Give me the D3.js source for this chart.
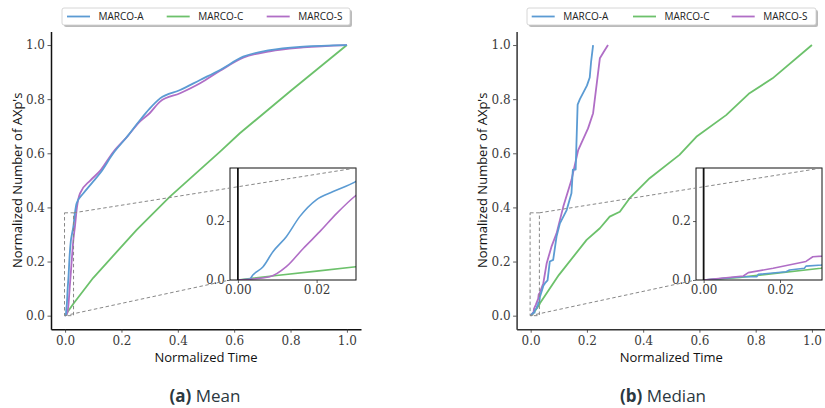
<!DOCTYPE html>
<html>
<head>
<meta charset="utf-8">
<script src="https://cdn.jsdelivr.net/npm/d3@7"></script>
<style>
  html, body { margin: 0; padding: 0; background: #fff; }
  svg { display: block; }
</style>
</head>
<body>
<svg id="chart" width="825" height="408"></svg>
<script>
// ---------------- DATA ----------------
const seriesNames = ["MARCO-A", "MARCO-C", "MARCO-S"];
const panelTitles = [["(a)", "Mean"], ["(b)", "Median"]];
const mainTicks = [0, 0.2, 0.4, 0.6, 0.8, 1.0];
const insetXTicks = [0, 0.02];
const insetYTicks = [0, 0.2];

// Mean panel
const meanA_t = [0, 0.003, 0.0038, 0.0064, 0.0089, 0.0123, 0.0157, 0.020, 0.0242, 0.0298, 0.035, 0.041, 0.065, 0.095, 0.124, 0.171, 0.219, 0.266, 0.30, 0.337, 0.408, 0.479, 0.55, 0.632, 0.727, 0.845, 1.0];
const meanA_n = [0, 0.003, 0.017, 0.045, 0.096, 0.147, 0.215, 0.273, 0.30, 0.333, 0.38, 0.415, 0.452, 0.49, 0.526, 0.60, 0.66, 0.723, 0.765, 0.803, 0.834, 0.871, 0.908, 0.957, 0.981, 0.994, 1.0];
const meanC_t = [0, 0.0098, 0.02, 0.03, 0.1, 0.2, 0.254, 0.372, 0.55, 0.62, 0.8, 1.0];
const meanC_n = [0, 0.015, 0.03, 0.045, 0.14, 0.255, 0.317, 0.44, 0.606, 0.674, 0.83, 1.0];
const meanS_t = [0, 0.0081, 0.0123, 0.0166, 0.0208, 0.0251, 0.0298, 0.035, 0.042, 0.053, 0.09, 0.124, 0.171, 0.219, 0.266, 0.30, 0.337, 0.408, 0.479, 0.55, 0.632, 0.727, 0.845, 1.0];
const meanS_n = [0, 0.011, 0.045, 0.107, 0.164, 0.226, 0.285, 0.33, 0.40, 0.452, 0.50, 0.535, 0.605, 0.66, 0.718, 0.748, 0.791, 0.822, 0.859, 0.905, 0.953, 0.977, 0.991, 1.0];

// Median panel
const medA_t = [0, 0.01, 0.0139, 0.0143, 0.0216, 0.0225, 0.0264, 0.0268, 0.031, 0.033, 0.045, 0.051, 0.06, 0.068, 0.08, 0.092, 0.104, 0.128, 0.145, 0.150, 0.160, 0.162, 0.167, 0.175, 0.20, 0.21, 0.215, 0.222];
const medA_n = [0, 0.011, 0.011, 0.019, 0.028, 0.034, 0.04, 0.047, 0.051, 0.07, 0.11, 0.12, 0.13, 0.20, 0.206, 0.292, 0.341, 0.39, 0.452, 0.54, 0.54, 0.61, 0.78, 0.80, 0.85, 0.88, 0.94, 1.0];
const medC_t = [0, 0.0095, 0.0307, 0.033, 0.1, 0.199, 0.246, 0.281, 0.317, 0.352, 0.423, 0.529, 0.589, 0.695, 0.778, 0.86, 1.0];
const medC_n = [0, 0.009, 0.04, 0.046, 0.15, 0.28, 0.323, 0.366, 0.384, 0.434, 0.508, 0.594, 0.661, 0.741, 0.822, 0.877, 1.0];
const medS_t = [0, 0.0104, 0.0117, 0.0182, 0.0268, 0.0286, 0.031, 0.045, 0.057, 0.074, 0.092, 0.116, 0.145, 0.169, 0.204, 0.222, 0.246, 0.26, 0.275];
const medS_n = [0, 0.0136, 0.025, 0.04, 0.063, 0.079, 0.081, 0.12, 0.194, 0.255, 0.304, 0.403, 0.501, 0.612, 0.692, 0.748, 0.951, 0.975, 1.0];

const colors = {"MARCO-A": "#5b9bd3", "MARCO-C": "#6cc16b", "MARCO-S": "#b06ec6"};

const zip = (t, n) => t.map((v, i) => [v, n[i]]);
const panels = [
  {
    title: panelTitles[0],
    series: {"MARCO-A": zip(meanA_t, meanA_n), "MARCO-C": zip(meanC_t, meanC_n), "MARCO-S": zip(meanS_t, meanS_n)},
    smooth: {"MARCO-A": true, "MARCO-C": false, "MARCO-S": true},
    xRange: [51, 361],
    inset: {x0: 230, x1: 356, y0: 168, y1: 280, xDom: [-0.002, 0.03], yDom: [0, 0.38]},
    legend: {x: 62, lineStarts: [67, 166.7, 266.7], w: 288},
    yLabelX: 17,
    spine: "#111"
  },
  {
    title: panelTitles[1],
    series: {"MARCO-A": zip(medA_t, medA_n), "MARCO-C": zip(medC_t, medC_n), "MARCO-S": zip(medS_t, medS_n)},
    smooth: {"MARCO-A": false, "MARCO-C": false, "MARCO-S": false},
    xRange: [516.6, 826],
    inset: {x0: 696, x1: 822, y0: 168, y1: 280, xDom: [-0.002, 0.031], yDom: [0, 0.38]},
    legend: {x: 527, lineStarts: [531.7, 633, 731.7], w: 289},
    yLabelX: 482,
    spine: "#333"
  }
];

const svg = d3.select("#chart");
const defs = svg.append("defs");
const yMain = d3.scaleLinear().domain([-0.05, 1.05]).range([329.2, 31.5]);
const tickFont = "'DejaVu Serif', serif";
const sansFont = "'Open Sans', 'DejaVu Sans', sans-serif";

panels.forEach((p, pi) => {
  const x = d3.scaleLinear().domain([-0.05, 1.05]).range(p.xRange);
  const g = svg.append("g");
  const mkLine = (sx, sy, smooth) => d3.line().x(d => sx(d[0])).y(d => sy(d[1]))
    .curve(smooth ? d3.curveMonotoneX : d3.curveLinear);

  // main curves
  ["MARCO-C", "MARCO-S", "MARCO-A"].forEach(name => {
    g.append("path").datum(p.series[name])
      .attr("d", mkLine(x, yMain, p.smooth[name])).attr("fill", "none")
      .attr("stroke", colors[name]).attr("stroke-width", 1.8)
      .attr("stroke-linejoin", "round");
  });

  // axes
  const xAxis = d3.axisBottom(x).tickValues(mainTicks).tickFormat(d3.format(".1f"))
    .tickSize(3.5).tickSizeOuter(0).tickPadding(4);
  const yAxis = d3.axisLeft(yMain).tickValues(mainTicks).tickFormat(d3.format(".1f"))
    .tickSize(3.5).tickSizeOuter(0).tickPadding(2.5);
  const gx = g.append("g").attr("transform", `translate(0,${yMain.range()[0]})`).call(xAxis);
  const gy = g.append("g").attr("transform", `translate(${x.range()[0]},0)`).call(yAxis);
  [gx, gy].forEach(a => {
    a.select(".domain").attr("stroke", p.spine).attr("stroke-width", 1.5);
    a.selectAll(".tick line").attr("stroke", "#333").attr("stroke-width", 0.8);
    a.selectAll(".tick text").attr("font-family", tickFont).attr("font-size", 12).attr("fill", "#3a3a3a");
  });

  // axis labels
  const xc = (x(0) + x(1)) / 2;
  g.append("text").attr("x", xc).attr("y", 362).attr("text-anchor", "middle")
    .attr("font-family", sansFont).attr("font-size", 13).attr("fill", "#111")
    .text("Normalized Time");
  g.append("text").attr("transform", `translate(${p.yLabelX},${(yMain(0) + yMain(1)) / 2}) rotate(-90)`)
    .attr("text-anchor", "middle").attr("dy", "0.35em")
    .attr("font-family", sansFont).attr("font-size", 13).attr("fill", "#111")
    .text("Normalized Number of AXp's");

  // inset
  const ins = p.inset;
  const xi = d3.scaleLinear().domain(ins.xDom).range([ins.x0, ins.x1]);
  const yi = d3.scaleLinear().domain(ins.yDom).range([ins.y1, ins.y0]);
  const clipId = "clip" + pi;
  defs.append("clipPath").attr("id", clipId).append("rect")
    .attr("x", ins.x0).attr("y", ins.y0).attr("width", ins.x1 - ins.x0).attr("height", ins.y1 - ins.y0);

  // dashed rect on main
  const rx0 = x(ins.xDom[0]), rx1 = x(ins.xDom[1]), ry0 = yMain(ins.yDom[1]), ry1 = yMain(ins.yDom[0]);
  g.append("rect").attr("x", rx0).attr("y", ry0).attr("width", rx1 - rx0).attr("height", ry1 - ry0)
    .attr("fill", "none").attr("stroke", "#888").attr("stroke-width", 1).attr("stroke-dasharray", "3.5,2.5");

  const gi = g.append("g");
  gi.append("rect").attr("x", ins.x0).attr("y", ins.y0).attr("width", ins.x1 - ins.x0).attr("height", ins.y1 - ins.y0)
    .attr("fill", "#fff");
  const gc = gi.append("g").attr("clip-path", `url(#${clipId})`);
  ["MARCO-C", "MARCO-A", "MARCO-S"].forEach(name => {
    gc.append("path").datum(p.series[name].filter(d => d[0] <= ins.xDom[1] * 1.6))
      .attr("d", mkLine(xi, yi, p.smooth[name])).attr("fill", "none")
      .attr("stroke", colors[name]).attr("stroke-width", 1.6).attr("stroke-linejoin", "round");
  });
  // vertical line at x = 0
  gi.append("line").attr("x1", xi(0)).attr("x2", xi(0)).attr("y1", ins.y0).attr("y2", ins.y1)
    .attr("stroke", "#111").attr("stroke-width", 1.8);
  gi.append("rect").attr("x", ins.x0).attr("y", ins.y0).attr("width", ins.x1 - ins.x0).attr("height", ins.y1 - ins.y0)
    .attr("fill", "none").attr("stroke", "#111").attr("stroke-width", 1);
  const xiAxis = d3.axisBottom(xi).tickValues(insetXTicks).tickFormat(d3.format(".2f")).tickSize(3).tickSizeOuter(0).tickPadding(2);
  const yiAxis = d3.axisLeft(yi).tickValues(insetYTicks).tickFormat(d3.format(".1f")).tickSize(3).tickSizeOuter(0).tickPadding(2);
  const gxi = gi.append("g").attr("transform", `translate(0,${ins.y1})`).call(xiAxis);
  const gyi = gi.append("g").attr("transform", `translate(${ins.x0},0)`).call(yiAxis);
  [gxi, gyi].forEach(a => {
    a.select(".domain").remove();
    a.selectAll(".tick line").attr("stroke", "#333").attr("stroke-width", 0.8);
    a.selectAll(".tick text").attr("font-family", tickFont).attr("font-size", 12).attr("fill", "#3a3a3a");
  });

  // connector lines (upper-right to upper-right, lower-left to lower-left)
  g.append("line").attr("x1", rx1).attr("y1", ry0).attr("x2", ins.x1).attr("y2", ins.y0)
    .attr("stroke", "#888").attr("stroke-width", 1).attr("stroke-dasharray", "3.5,2.5");
  g.append("line").attr("x1", rx0).attr("y1", ry1).attr("x2", ins.x0).attr("y2", ins.y1)
    .attr("stroke", "#888").attr("stroke-width", 1).attr("stroke-dasharray", "3.5,2.5");

  // legend
  const L = p.legend;
  const lg = svg.append("g");
  lg.append("rect").attr("x", L.x + 2).attr("y", 10).attr("width", L.w).attr("height", 17)
    .attr("rx", 2).attr("fill", "#aaa").attr("opacity", 0.8);
  lg.append("rect").attr("x", L.x).attr("y", 8).attr("width", L.w).attr("height", 17)
    .attr("rx", 2).attr("fill", "#fff").attr("stroke", "#ccc").attr("stroke-width", 0.8);
  seriesNames.forEach((name, i) => {
    const lx = L.lineStarts[i];
    lg.append("line").attr("x1", lx).attr("x2", lx + 23).attr("y1", 16.5).attr("y2", 16.5)
      .attr("stroke", colors[name]).attr("stroke-width", 1.8);
    lg.append("text").attr("x", lx + 31.5).attr("y", 16.5).attr("dy", "0.35em")
      .attr("font-family", sansFont).attr("font-size", 10).attr("fill", "#222").text(name);
  });

  // subtitle
  const st = svg.append("text").attr("x", pi === 0 ? 205 : 663).attr("y", 402)
    .attr("text-anchor", "middle").attr("font-family", sansFont).attr("font-size", 17).attr("fill", "#2b3840");
  st.append("tspan").attr("font-weight", "bold").text(p.title[0]);
  st.append("tspan").text(" " + p.title[1]);
});
</script>
</body>
</html>
